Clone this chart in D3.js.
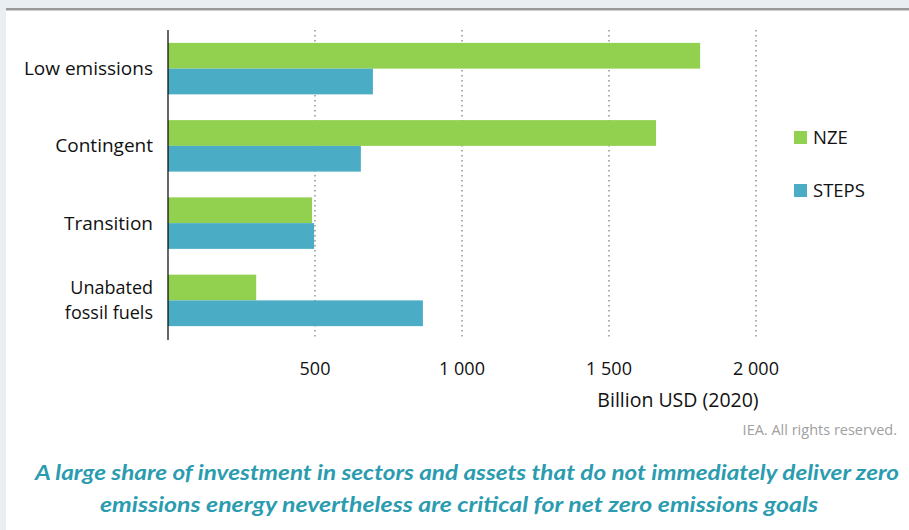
<!DOCTYPE html>
<html><head><meta charset="utf-8">
<script src="https://cdn.jsdelivr.net/npm/d3@7"></script>
<style>
html,body{margin:0;padding:0;background:#fff;}
svg{display:block;}
</style></head>
<body>
<script>
const categories = ["Low emissions", "Contingent", "Transition", "Unabated fossil fuels"];
const categoryLines = [["Low emissions"], ["Contingent"], ["Transition"], ["Unabated", "fossil fuels"]];
const seriesNames = ["NZE", "STEPS"];
const nzeValues = [1810, 1660, 490, 300];
const stepsValues = [697, 656, 497, 867];
const tickValues = [500, 1000, 1500, 2000];
const colors = ["#92d050", "#4bacc6"];

const W = 909, H = 530;
const svg = d3.select("body").append("svg").attr("width", W).attr("height", H);

// background frame
svg.append("rect").attr("x", 0).attr("y", 0).attr("width", W).attr("height", H).attr("fill", "#e9eef3");
svg.append("rect").attr("x", 6).attr("y", 8).attr("width", W - 6).attr("height", H - 8).attr("fill", "#fff");
svg.append("rect").attr("x", 6).attr("y", 8).attr("width", W - 6).attr("height", 2.5).attr("fill", "#999");

const x = d3.scaleLinear().domain([0, 2000]).range([168, 756]);
const y = d3.scaleBand().domain(categories).range([30, 339]).paddingInner(1/3).paddingOuter(1/6);
const ys = d3.scaleBand().domain(seriesNames).range([0, y.bandwidth()]);

// gridlines
svg.append("g").selectAll("line").data(tickValues).join("line")
  .attr("x1", d => x(d)).attr("x2", d => x(d))
  .attr("y1", 30).attr("y2", 340)
  .attr("stroke", "#999").attr("stroke-width", 1.6).attr("stroke-dasharray", "1.6,3.4");

const data = categories.map((c, i) => ({cat: c, vals: [nzeValues[i], stepsValues[i]]}));
const g = svg.append("g").selectAll("g").data(data).join("g")
  .attr("transform", d => `translate(0,${y(d.cat)})`);
g.selectAll("rect").data(d => d.vals.map((v, j) => ({v, s: seriesNames[j], j}))).join("rect")
  .attr("x", x(0)).attr("y", d => ys(d.s))
  .attr("width", d => x(d.v) - x(0)).attr("height", ys.bandwidth())
  .attr("fill", d => colors[d.j]);

// y axis line
svg.append("line").attr("x1", x(0)).attr("x2", x(0)).attr("y1", 30).attr("y2", 340)
  .attr("stroke", "#000").attr("stroke-width", 1.2);

const font = "'Open Sans', 'Noto Sans', sans-serif";
// category labels
categories.forEach((c, i) => {
  const lines = categoryLines[i];
  const cy = y(c) + y.bandwidth() / 2;
  lines.forEach((ln, k) => {
    svg.append("text").attr("text-anchor", "end").attr("font-family", font)
      .attr("font-size", lines.length > 1 ? 18 : 19).attr("fill", "#111")
      .attr("x", 153).attr("y", cy + (k - (lines.length - 1) / 2) * 25 + 6.5).text(ln);
  });
});

// x tick labels
svg.append("g").selectAll("text").data(tickValues).join("text")
  .attr("x", d => x(d)).attr("y", 374.5).attr("text-anchor", "middle")
  .attr("font-family", font).attr("font-size", 18).attr("fill", "#111")
  .text(d => d3.format(",")(d).replace(/,/g, " "));

svg.append("text").attr("x", 678).attr("y", 406.5).attr("text-anchor", "middle")
  .attr("font-family", font).attr("font-size", 19.5).attr("fill", "#111").text("Billion USD (2020)");

svg.append("text").attr("x", 897).attr("y", 435).attr("text-anchor", "end")
  .attr("font-family", font).attr("font-size", 14.5).attr("fill", "#a0a0a0").text("IEA. All rights reserved.");

// legend
const leg = svg.append("g").selectAll("g").data(seriesNames).join("g")
  .attr("transform", (d, i) => `translate(794,${131 + i * 53})`);
leg.append("rect").attr("width", 13).attr("height", 13).attr("fill", (d, i) => colors[i]);
leg.append("text").attr("x", 19).attr("y", 13).attr("font-family", font).attr("font-size", 18.5)
  .attr("fill", "#111").text(d => d);

// caption
const cap = ["A large share of investment in sectors and assets that do not immediately deliver zero",
             "emissions energy nevertheless are critical for net zero emissions goals"];
const capStart = [35, 100], capLen = [864, 718];
svg.append("g").selectAll("text").data(cap).join("text")
  .attr("x", (d, i) => capStart[i]).attr("y", (d, i) => 480 + i * 32)
  .attr("textLength", (d, i) => capLen[i]).attr("lengthAdjust", "spacingAndGlyphs")
  .attr("font-family", "Lato, 'Open Sans', sans-serif").attr("font-style", "italic").attr("font-weight", "bold")
  .attr("font-size", 20.5).attr("fill", "#2b9cb0").text(d => d);
</script>
</body></html>
